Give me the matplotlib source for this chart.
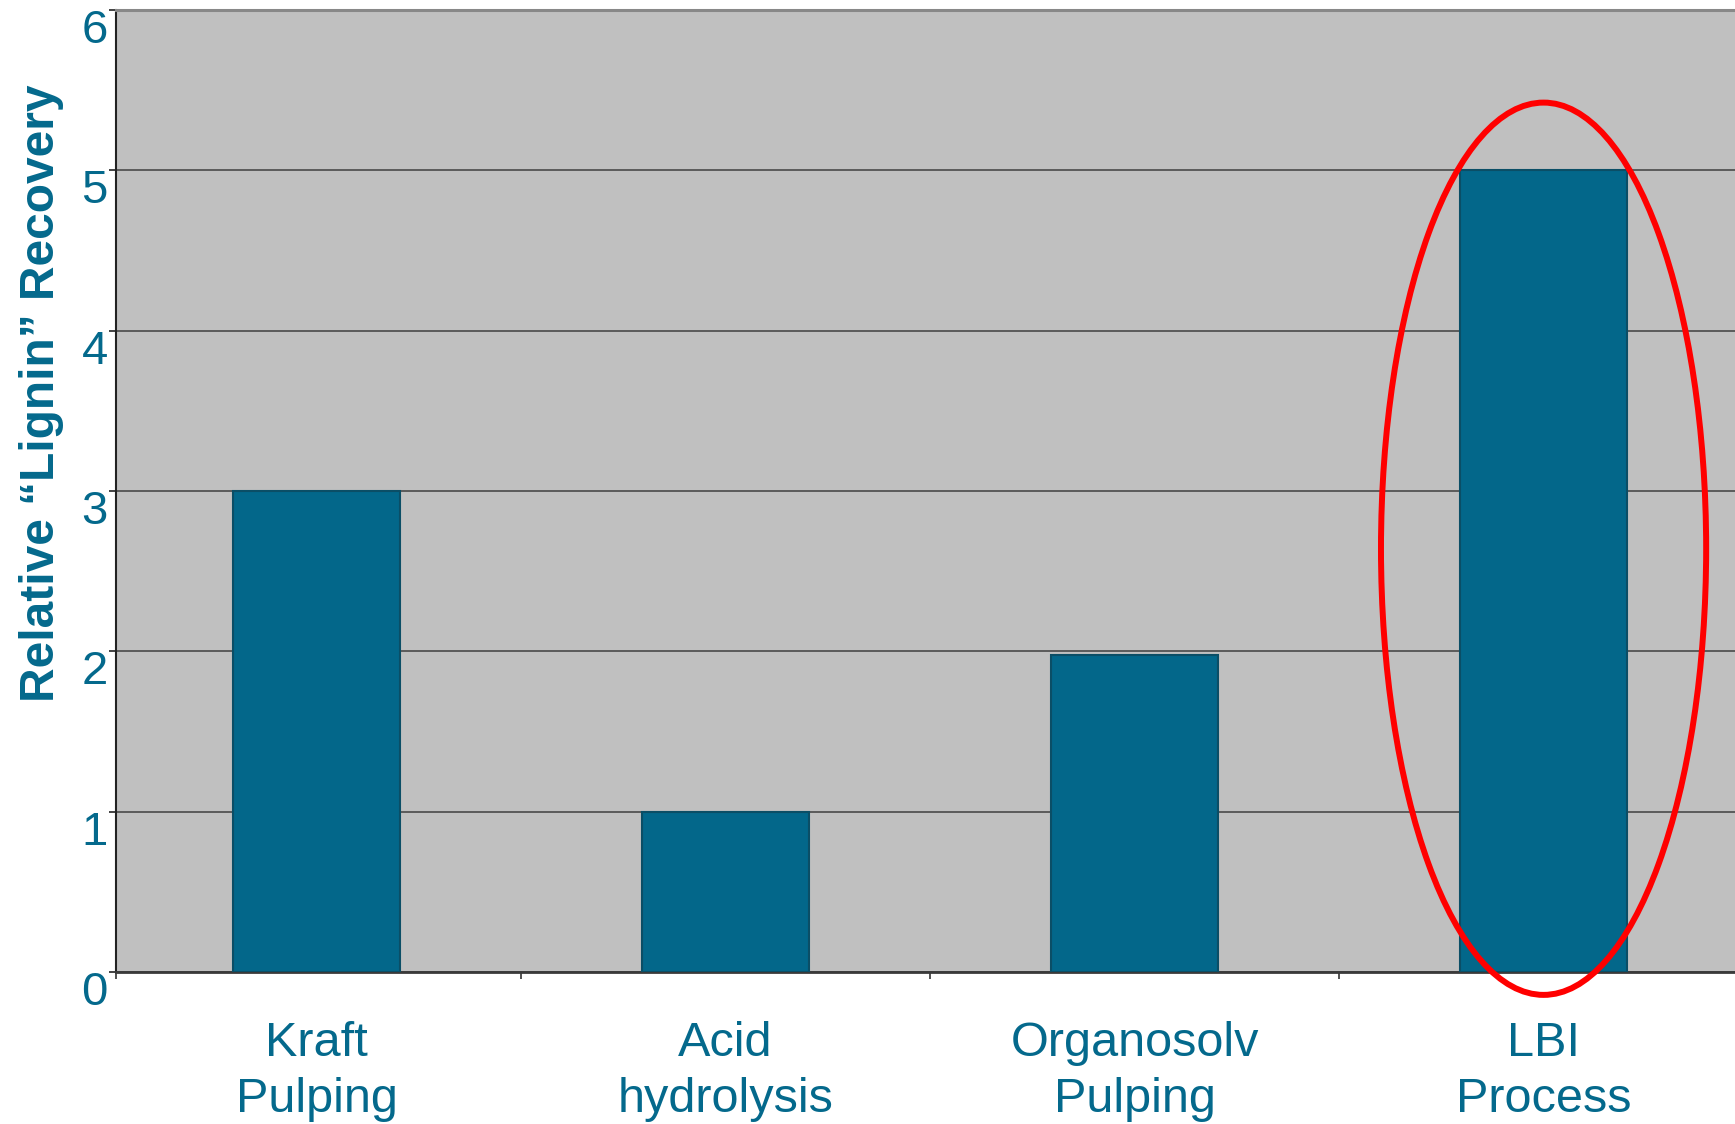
import matplotlib
matplotlib.use("Agg")
import matplotlib.pyplot as plt
from matplotlib.patches import Ellipse
from matplotlib.transforms import ScaledTranslation

plt.rcParams['font.family'] = ['Liberation Sans', 'DejaVu Sans']

categories = ["Kraft\nPulping", "Acid\nhydrolysis", "Organosolv\nPulping", "LBI\nProcess"]
recovery = [3.0, 1.0, 1.98, 5.0]
y_ticks = [0, 1, 2, 3, 4, 5, 6]

TEAL = "#04698C"
BAR = "#03678A"
BAR_EDGE = "#0B4E66"

fig = plt.figure(figsize=(17.35, 11.24), dpi=100)
ax = fig.add_axes([0.0669, 0.1352, 0.943, 0.8559])
ax.set_facecolor("#C0C0C0")

x = list(range(len(categories)))
ax.set_axisbelow(True)
ax.yaxis.grid(True, color="#4a4a4a", linewidth=1.2)
ax.bar(x, recovery, width=0.41, color=BAR, edgecolor=BAR_EDGE, linewidth=1.5, zorder=3)

ax.set_xlim(-0.49, 3.51)
ax.set_ylim(0, 6)

# y axis ticks and labels (labels hang just below their tick)
ax.set_yticks(y_ticks)
ax.set_yticklabels([str(v) for v in y_ticks])
ax.tick_params(axis="y", direction="out", length=5, width=1.2, color="#222222",
               labelsize=34, labelcolor=TEAL, pad=1)
offset = ScaledTranslation(0, -16 / 100, fig.dpi_scale_trans)
for lbl in ax.get_yticklabels():
    lbl.set_transform(lbl.get_transform() + offset)

# x axis: category labels at centres, small tick marks at category edges
ax.set_xticks(x)
ax.set_xticklabels(categories, linespacing=1.33)
ax.tick_params(axis="x", which="major", length=0, labelsize=35, labelcolor=TEAL, pad=35)
ax.set_xticks([-0.49, 0.5, 1.5, 2.5, 3.5], minor=True)
ax.tick_params(axis="x", which="minor", direction="out", length=5, width=1.2, color="#333333")

ax.spines["right"].set_visible(False)
ax.spines["top"].set_color("#888888")
ax.spines["top"].set_linewidth(2.2)
ax.spines["left"].set_color("#222222")
ax.spines["left"].set_linewidth(1.5)
ax.spines["bottom"].set_color("#3a3a3a")
ax.spines["bottom"].set_linewidth(2.0)

fig.text(0.024, 0.650, "Relative \u201cLignin\u201d Recovery", rotation=90,
         ha="center", va="center", fontsize=34.5, fontweight="bold", color=TEAL)

# highlight around the LBI bar
ax.add_patch(Ellipse((3.0, 2.64), 0.795, 5.565, fill=False, edgecolor="#FF0000",
                     linewidth=4.3, zorder=5, clip_on=False))

fig.savefig("out.png", dpi=100)
